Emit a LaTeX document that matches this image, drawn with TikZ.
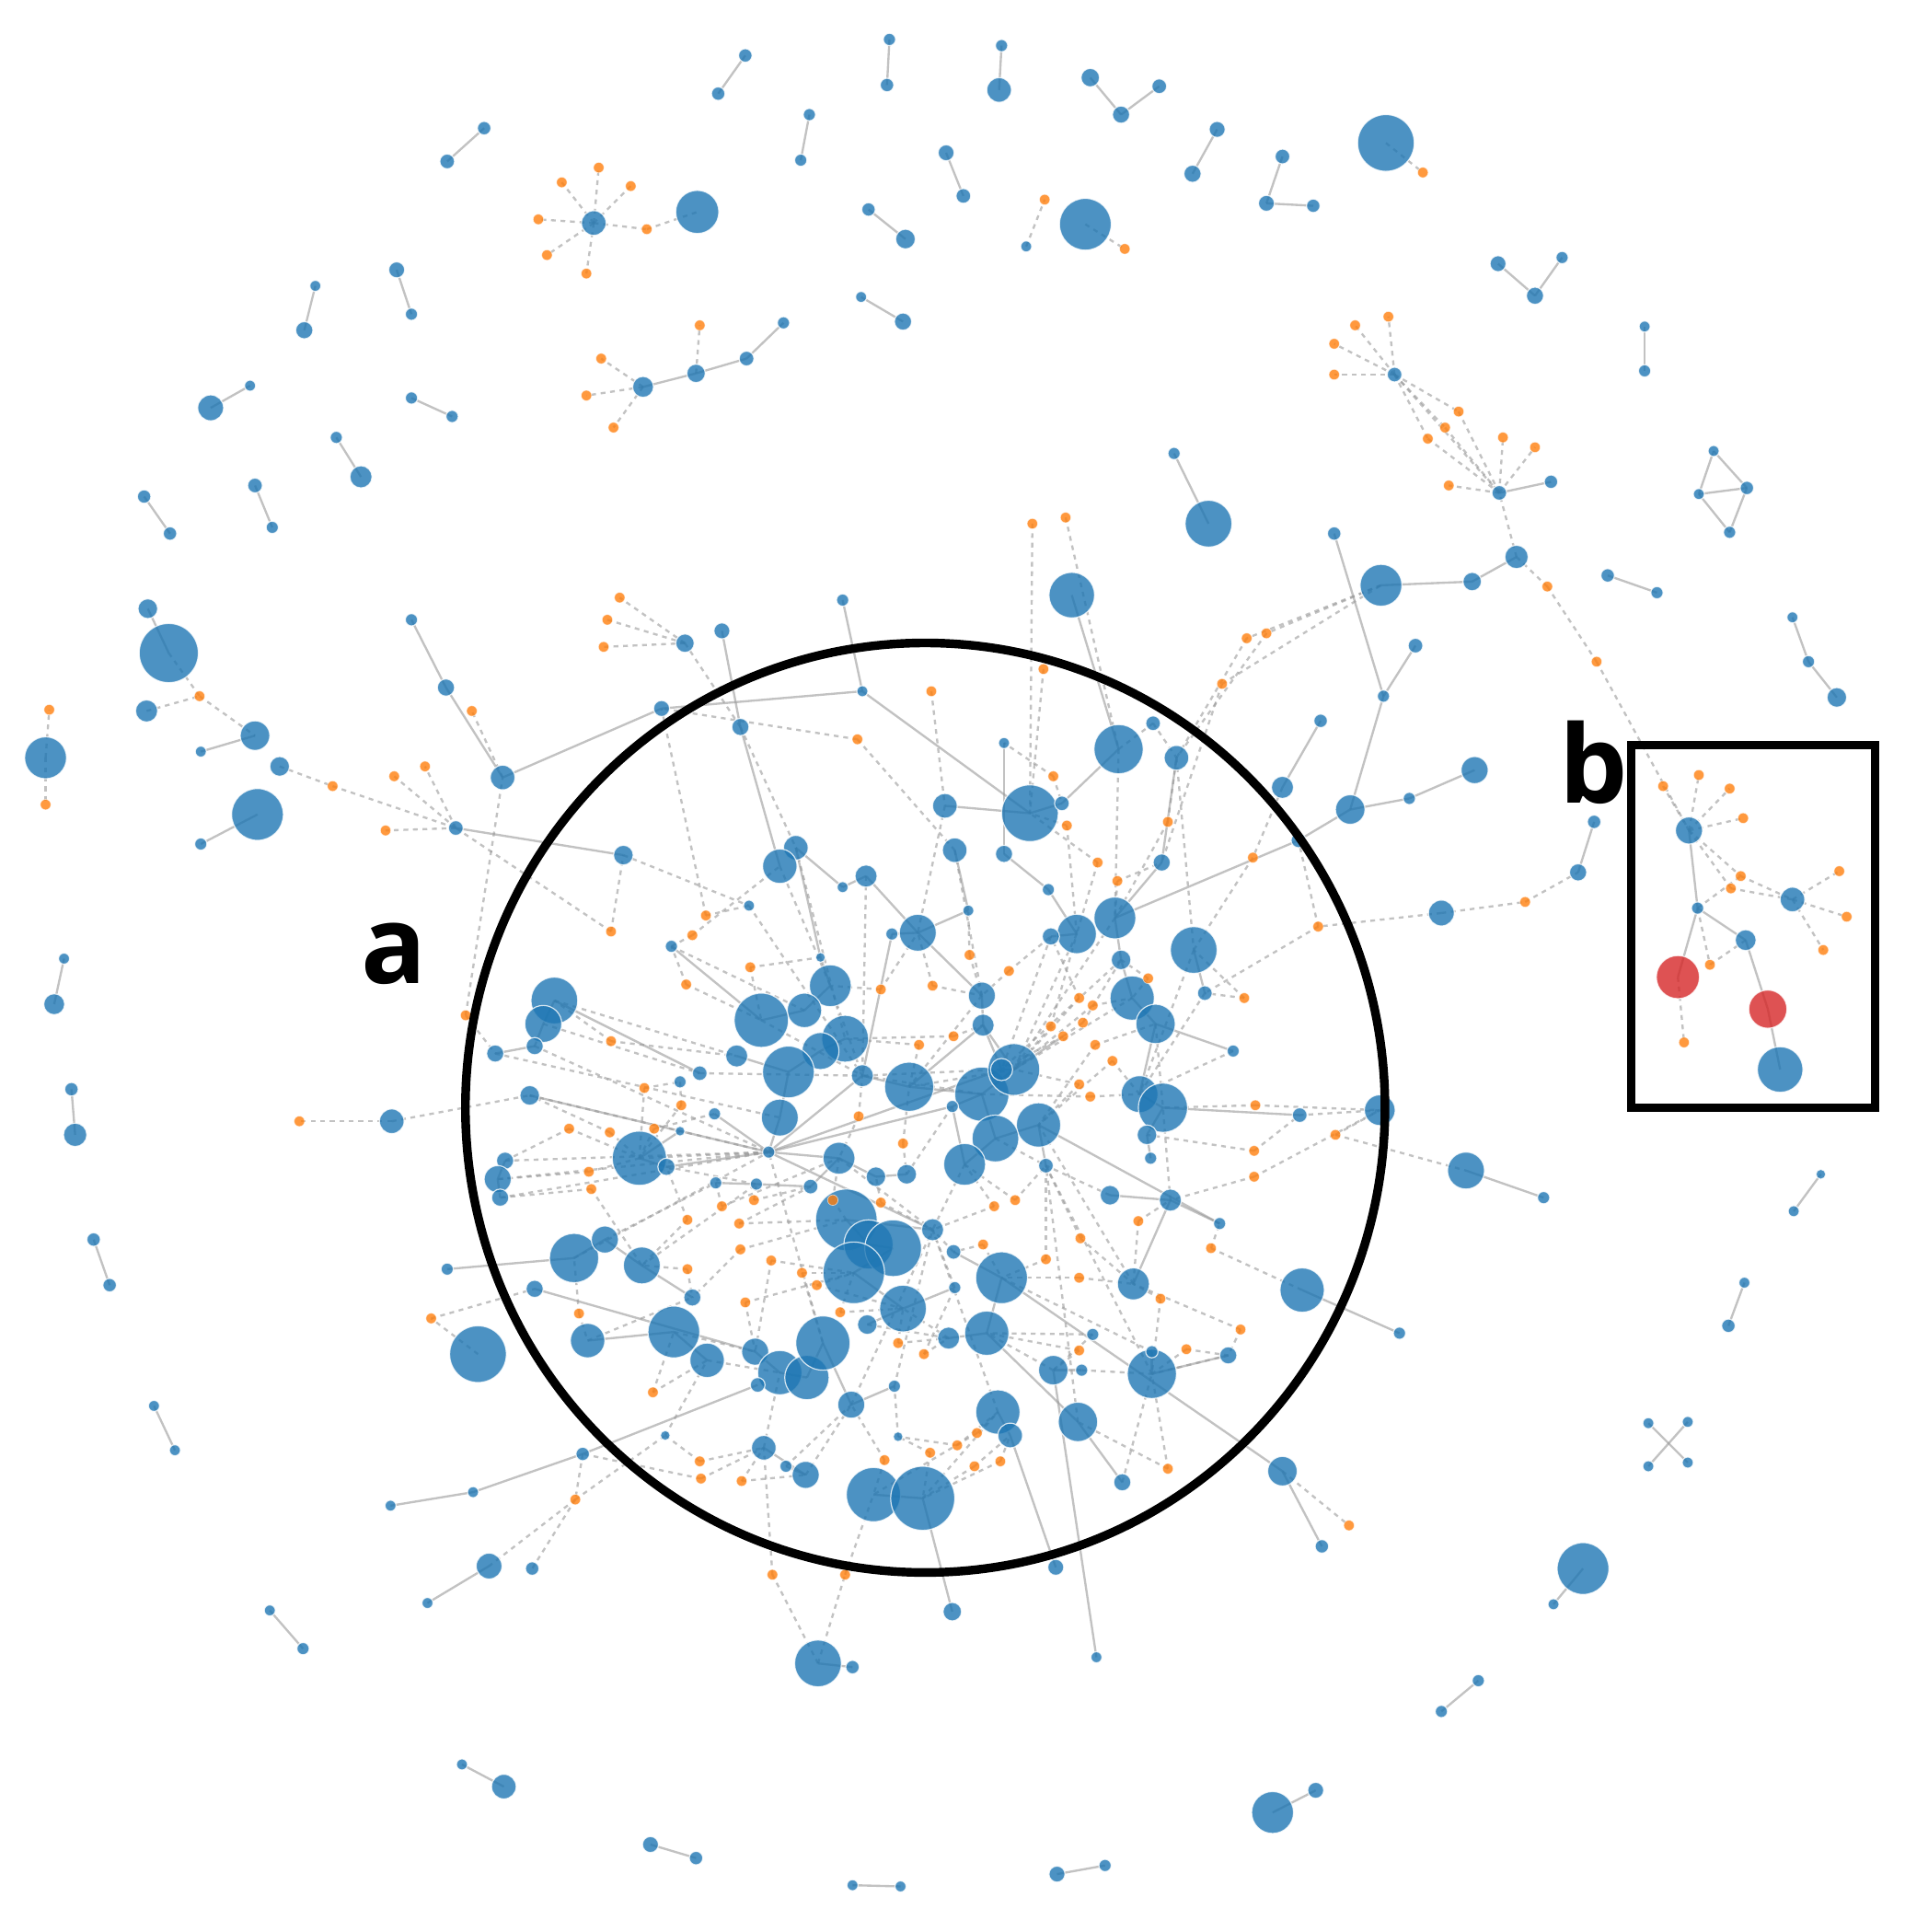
\documentclass[tikz,border=0pt]{standalone}
\usepackage{fontspec}
\newfontfamily\labfont{Open Sans}
\pgfdeclarelayer{bg}
\pgfsetlayers{bg,main}
\definecolor{nb}{HTML}{1F77B4}
\definecolor{no}{HTML}{FF7F0E}
\definecolor{nr}{HTML}{D62728}
\definecolor{eg}{HTML}{999999}
\begin{document}
\begin{tikzpicture}[x=0.01cm,y=-0.01cm,
  bn/.style={circle,fill=nb,fill opacity=0.8,draw=white,draw opacity=0.8,line width=0.25pt,inner sep=0pt,outer sep=0pt},
  rn/.style={bn,fill=nr},
  onode/.style={circle,fill=no,fill opacity=0.8,draw=white,draw opacity=0.6,line width=0.15pt,inner sep=0pt,outer sep=0pt,minimum size=0.85mm},
  se/.style={draw=eg,draw opacity=0.6,line width=0.5pt},
  de/.style={se,dash pattern=on 1.1pt off 1.1pt},
  lab/.style={font={\labfont\bfseries\fontsize{25}{25}\selectfont},inner sep=0pt,text=black}]
\useasboundingbox (0,0) rectangle (1546,1568);
% blue nodes (periphery)
\foreach \n/\x/\y/\d in {p1/605/45/11, p2/583/76/11, p3/722/32/10, p4/720/69/11, p5/813/37/10, p6/811/73/20, p7/885/63/15, p8/910/93/14, p9/941/70/12, p10/1125/116/46, p11/657/93/10, p12/650/130/10, p13/393/104/11, p14/363/131/12, p15/988/105/13, p16/968/141/14, p17/1041/127/12, p18/1028/165/13, p19/1066/167/11, p20/768/124/13, p21/782/159/12, p22/482/181/20, p23/566/172/35, p24/881/182/42, p25/833/200/9, p26/705/170/11, p27/735/194/16, p28/1216/214/13, p29/1246/240/14, p30/1268/209/10, p31/256/232/9, p32/247/268/14, p33/322/219/13, p34/334/255/10, p35/699/241/9, p36/733/261/14, p37/522/314/17, p38/565/303/15, p39/606/291/12, p40/636/262/10, p41/203/313/9, p42/171/331/21, p43/334/323/10, p44/367/338/10, p45/273/355/10, p46/293/387/18, p47/207/394/12, p48/221/428/10, p49/117/403/11, p50/138/433/11, p51/1335/265/9, p52/1335/301/10, p53/1132/304/12, p54/1217/400/12, p55/1259/391/11, p56/1231/452/19, p57/1391/366/9, p58/1379/401/9, p59/1418/396/11, p60/1404/432/10, p61/1455/501/9, p62/1468/537/10, p63/1491/566/16, p64/1478/953/8, p65/1456/983/9, p66/1416/1041/9, p67/1403/1076/11, p68/1338/1155/9, p69/1370/1154/9, p70/1338/1190/9, p71/1370/1187/9, p72/1285/1273/42, p73/1261/1302/9, p74/1200/1364/10, p75/1170/1389/10, p76/1033/1471/34, p77/1068/1453/13, p78/858/1521/13, p79/897/1514/10, p80/692/1530/9, p81/731/1531/9, p82/528/1497/13, p83/565/1508/11, p84/375/1432/9, p85/409/1450/20, p86/219/1307/9, p87/246/1338/10, p88/125/1141/9, p89/142/1177/9, p90/76/1006/11, p91/89/1043/11, p92/58/884/11, p93/61/921/19, p94/52/778/9, p95/44/815/17, p96/37/615/34, p97/120/494/16, p98/137/530/48, p99/119/577/18, p100/207/597/24, p101/163/610/9, p102/227/622/16, p103/209/661/42, p104/163/685/10, p105/370/672/12, p106/334/503/10, p107/362/558/14, p108/408/631/20, p109/537/575/13, p110/700/561/9, p111/318/910/20, p112/363/1030/10, p113/388/1099/46, p114/317/1222/9, p115/384/1211/9, p116/473/1180/11, p117/397/1271/21, p118/432/1273/11, p119/347/1301/9, p120/556/522/15, p121/586/512/13, p122/870/483/37, p123/981/425/38, p124/953/368/10, p125/1121/475/34, p126/1195/472/15, p127/1083/433/11, p128/1305/467/11, p129/1345/481/10, p130/1149/524/12, p131/1123/565/10, p132/1072/585/11, p133/1041/639/18, p134/1096/657/24, p135/1144/648/10, p136/1197/625/22, p137/1170/741/21, p138/1281/708/14, p139/1294/667/11, p140/1190/950/30, p141/1253/972/10, p142/1120/901/25, p143/1055/905/12, p144/1057/1047/36, p145/1136/1082/10, p146/1041/1194/24, p147/1073/1255/11, p148/890/1345/9, p149/857/1272/13, p150/773/1308/15, p151/664/1350/38, p152/692/1353/11, p153/684/487/10, p155/1371/674/22, p156/1378/737/10, p157/1455/730/20, p158/1417/763/17, p159/1445/868/37}
  \node[bn,minimum size=\d*0.1mm] (\n) at (\x,\y) {};
% blue nodes (central cluster)
\foreach \n/\x/\y/\d in {c1/601/590/14, c2/767/654/20, c3/836/660/46, c4/862/652/12, c5/908/608/40, c6/955/615/20, c7/775/690/20, c8/815/693/14, c9/851/722/10, c10/646/688/20, c11/633/703/28, c12/703/711/18, c13/684/720/9, c14/745/757/30, c15/724/758/10, c16/666/777/8, c17/608/735/9, c18/545/768/10, c19/506/694/16, c20/786/739/9, c21/874/758/32, c22/853/760/14, c23/905/745/34, c24/943/700/14, c25/969/771/38, c26/910/779/16, c27/978/806/12, c28/919/810/36, c29/938/831/32, c30/797/808/22, c31/798/832/18, c32/674/800/34, c33/653/820/28, c34/618/828/44, c35/686/843/38, c36/666/853/30, c37/598/857/18, c38/640/870/42, c39/700/873/18, c40/738/882/40, c41/633/907/30, c42/568/871/12, c43/552/878/10, c44/450/812/38, c45/441/831/30, c46/434/849/14, c47/402/855/14, c48/430/889/16, c49/580/904/10, c50/552/918/8, c51/519/940/44, c52/541/947/14, c53/410/942/14, c54/404/957/22, c55/406/972/14, c56/624/935/10, c57/681/940/26, c58/711/955/16, c59/736/953/16, c60/658/963/12, c61/614/961/10, c62/581/960/10, c63/797/888/44, c64/823/868/42, c65/813/868/18, c66/843/913/36, c67/808/924/38, c68/783/945/34, c69/849/946/12, c70/773/898/10, c71/925/888/30, c72/944/899/40, c73/931/921/16, c74/934/940/10, c75/1001/853/10, c76/901/970/16, c77/950/974/18, c78/990/993/10, c79/687/990/50, c80/705/1010/40, c81/725/1013/46, c82/693/1033/50, c83/757/998/18, c84/733/1062/38, c85/774/1016/12, c86/813/1037/42, c87/775/1045/10, c88/704/1075/16, c89/466/1021/40, c90/491/1006/22, c91/521/1027/30, c92/434/1046/14, c93/562/1053/14, c94/547/1081/42, c95/574/1104/28, c96/477/1088/28, c97/613/1097/22, c98/633/1114/36, c99/655/1118/36, c100/668/1090/44, c101/770/1086/18, c102/801/1082/36, c103/920/1042/26, c104/935/1115/40, c105/935/1097/10, c106/997/1100/14, c107/878/1112/10, c108/855/1112/24, c109/691/1140/22, c110/726/1125/10, c111/810/1146/36, c112/820/1165/20, c113/875/1154/32, c114/620/1175/20, c115/654/1197/22, c116/638/1190/10, c117/729/1166/8, c118/709/1213/44, c119/749/1216/52, c120/911/1203/14, c121/540/1165/8, c122/815/603/9, c124/936/587/12, c125/1054/682/12, c126/615/1124/12, c127/887/1083/10}
  \node[bn,minimum size=\d*0.1mm] (\n) at (\x,\y) {};
% red nodes
\foreach \n/\x/\y/\d in {r1/1362/793/35, r2/1435/819/31}
  \node[rn,minimum size=\d*0.1mm] (\n) at (\x,\y) {};
% orange nodes
\foreach \n/\x/\y in {o1/456/148, o2/486/136, o3/512/151, o4/437/178, o5/444/207, o6/476/222, o7/525/186, o8/1155/140, o9/913/202, o10/848/162, o11/568/264, o12/488/291, o13/476/321, o14/498/347, o15/1127/257, o16/1100/264, o17/1083/279, o18/1083/304, o19/1184/334, o20/1173/347, o21/1159/356, o22/1220/355, o23/1246/363, o24/1176/394, o25/1256/476, o26/1296/537, o27/40/576, o28/37/653, o29/162/565, o30/270/638, o31/320/630, o32/345/622, o33/313/674, o34/383/577, o35/243/910, o36/350/1070, o37/467/1217, o38/503/485, o39/493/503, o40/490/525, o41/838/425, o42/865/420, o43/1238/732, o44/1095/1238, o45/627/1278, o46/686/1278, o47/1350/638, o48/1379/629, o49/1404/640, o50/1415/664, o51/1413/711, o52/1405/721, o53/1493/707, o54/1499/744, o55/1480/771, o56/1388/783, o57/1367/846}
  \node[onode] (\n) at (\x,\y) {};
\foreach \n/\x/\y in {q1/756/561, q2/696/600, q3/847/543, q4/1012/518, q5/1028/514, q6/992/555, q7/855/630, q8/866/670, q9/948/667, q10/1017/696, q11/891/700, q12/907/715, q13/573/743, q14/562/759, q15/496/756, q16/609/785, q17/557/799, q18/715/803, q19/757/800, q20/787/775, q21/819/788, q22/1070/752, q23/932/794, q24/1010/810, q25/876/810, q26/887/816, q27/774/841, q28/853/833, q29/879/830, q30/863/841, q31/889/848, q32/903/861, q33/876/880, q34/885/890, q35/496/845, q36/523/883, q37/378/824, q38/746/848, q39/462/916, q40/495/919, q41/531/916, q42/478/951, q43/480/965, q44/586/979, q45/612/974, q46/558/990, q47/600/993, q48/601/1014, q49/626/1023, q50/651/1033, q51/663/1043, q52/558/1030, q53/605/1057, q54/470/1066, q55/682/1065, q56/729/1090, q57/750/1099, q58/530/1130, q59/676/974, q60/715/976, q61/733/928, q62/697/906, q63/568/1186, q64/569/1200, q65/602/1202, q66/718/1185, q67/755/1179, q68/1019/897, q69/1084/921, q70/1018/934, q71/1018/955, q72/807/979, q73/824/974, q74/798/1010, q75/849/1022, q76/877/1005, q77/876/1037, q78/924/991, q79/983/1013, q80/942/1054, q81/1007/1079, q82/876/1096, q83/963/1095, q84/793/1163, q85/777/1173, q86/812/1186, q87/791/1190, q88/948/1192, q89/553/897}
  \node[onode] (\n) at (\x,\y) {};
% connectors
\begin{pgfonlayer}{bg}
\foreach \a/\b in {p1/p2, p3/p4, p5/p6, p7/p8, p8/p9, p11/p12, p13/p14, p15/p16, p17/p18, p18/p19, p20/p21, p26/p27, p28/p29, p29/p30, p31/p32, p33/p34, p35/p36, p37/p38, p38/p39, p39/p40, p41/p42, p43/p44, p45/p46, p47/p48, p49/p50, p51/p52, p54/p55, p57/p58, p57/p59, p58/p59, p58/p60, p59/p60, p61/p62, p62/p63, p64/p65, p66/p67, p68/p71, p69/p70, p72/p73, p74/p75, p76/p77, p78/p79, p80/p81, p82/p83, p84/p85, p86/p87, p88/p89, p90/p91, p92/p93, p94/p95, p97/p98, p100/p101, p103/p104, p106/p107, p107/p108, p108/p109, p109/p110, p110/c3, p153/p110, p121/c1, c1/c11, p105/c19, p114/p115, p115/p116, p116/c126, p112/c89, p117/p119, p122/c5, p123/p124, p125/p126, p126/p56, p127/p131, p130/p131, p131/p134, p132/p133, p134/p135, p135/p136, p134/c125, c125/c23, p128/p129, p138/p139, p140/p141, p143/c72, p144/p145, p146/p147, p146/c86, c112/p149, p148/c108, p150/c119, p151/p152, p155/p156, p156/r1, p156/p158, p158/r2, r2/p159,
 c3/c4, c4/c5, c3/c2, c122/c8, c10/c16, c16/c32, c18/c34, c44/c42, c14/c15, c14/c20, c15/c39, c12/c14, c13/c12, c10/c13, c7/c20, c8/c9, c9/c21, c21/c22, c23/c24, c23/c26, c25/c27, c28/c29, c28/c26, c30/c31, c31/c65, c32/c33, c33/c34, c35/c36, c36/c38, c38/c37, c38/c41, c39/c40, c40/c63, c63/c64, c64/c65, c63/c67, c66/c67, c67/c68, c68/c70, c70/c63, c66/c69, c71/c72, c72/c73, c73/c74, c71/c29, c44/c45, c45/c46, c46/c47, c51/c52, c51/c50, c53/c54, c54/c55, c41/c56, c56/c57, c57/c58, c58/c59, c57/c60, c60/c61, c61/c62, c79/c80, c80/c81, c81/c82, c79/c83, c82/c84, c84/c88, c84/c87, c86/c85, c86/c102, c101/c102, c89/c90, c90/c91, c91/c93, c94/c95, c94/c96, c97/c98, c98/c99, c99/c100, c100/c109, c109/c110, c111/c112, c108/c107, c104/c105, c104/c106, c103/c77, c76/c77, c77/c78, c114/c115, c115/c116, c118/c119, c113/c120, c66/c78, c102/c113, c92/c97, c75/c29, c24/c6, c56/c49, c56/c39, c56/c65, c56/c70, c56/c83, c56/c52, c56/c48, c31/c40, c31/c64, c30/c14}
  \draw[se] (\a.center) -- (\b.center);
\foreach \a/\b in {p22/o1, p22/o2, p22/o3, p22/o4, p22/o5, p22/o6, p22/o7, o7/p23, p10/o8, p24/o9, p25/o10, p38/o11, p37/o12, p37/o13, p37/o14, p53/o15, p53/o16, p53/o17, p53/o18, p53/o19, p53/o20, p53/o21, o19/p54, o20/p54, o21/p54, p53/p54, p54/o22, p54/o23, p54/o24, p56/p54, p56/o25, o25/o26, o26/p155, p96/o27, p96/o28, p98/o29, p99/o29, o29/p100, p102/o30, o30/p105, p105/o31, p105/o32, p105/o33, p108/o34, p111/o35, p111/c48, p113/o36, o36/c92, p116/o37, o37/p117, o37/p118, o37/c121, p120/o38, p120/o39, p120/o40, p120/c1, o41/c3, o42/c5, p137/o43, o43/p138, p137/q22, p146/o44, p151/o45, p151/o46, o45/c114, o46/c118, p142/p143, p125/q4, p125/q5, p133/q10, q69/p140, q79/p144, q68/p142, q69/p142, q70/p143, q71/p142,
 p155/o47, p155/o48, p155/o49, p155/o50, p155/o51, p155/o52, o51/p157, o52/p157, p157/o53, p157/o54, p157/o55, p156/o51, p158/o56, p156/o56, r1/o57,
 q1/c2, q2/c7, q2/p109, q3/c3, q4/c6, q5/c6, q6/c24, q6/p125, q7/c4, q7/c122, q8/c3, q8/c21, q9/c6, q9/c23, q10/c25, q11/c3, q11/c21, q12/c23, q12/c24, q13/c17, q13/p109, q14/c18, q14/c11, q15/c19, q15/p105, q16/c16, q16/c34, q17/c18, q17/c34, q18/c14, q18/c32, q19/c14, q19/c30, q20/c20, q20/c30, q21/c30, q21/c22, q22/c125, q22/c27, q23/c26, q23/c28, q24/c27, q24/c25, q25/c22, q25/c64, q26/c28, q26/c64, q27/c31, q27/c35, q28/c64, q28/c21, q29/c26, q29/c64, q30/c65, q30/c64, q31/c29, q31/c66, q32/c71, q32/c66, q33/c64, q33/c66, q34/c63, q34/c71, q35/c44, q35/c37, q36/c43, q36/c51, q37/c47, q37/p108, q38/c40, q38/c35, q39/c53, q39/c51, q40/c51, q40/c48, q41/c51, q41/c49, q42/c54, q42/c51, q43/c55, q43/c91, q44/c62, q44/c57, q45/c61, q45/c60, q46/c52, q46/c91, q47/c60, q47/c79, q48/c93, q48/c79, q49/c82, q49/c97, q50/c82, q50/c100, q51/c82, q51/c84, q52/c93, q52/c91, q53/c97, q53/c82, q54/c89, q54/c96, q55/c82, q55/c84, q56/c84, q56/c101, q57/c101, q57/c87, q58/c94, q58/c95, q59/c57, q59/c79, q60/c58, q60/c83, q61/c40, q61/c59, q62/c39, q62/c57, q63/c114, q63/c121, q64/c114, q64/p116, q65/c115, q65/c114, q66/c109, q66/c118, q67/c119, q67/c117, q70/c73, q71/c77, q72/c68, q72/c83, q73/c68, q73/c69, q74/c85, q74/c86, q75/c86, q75/c69, q76/c69, q76/c103, q77/c86, q77/c103, q78/c77, q78/c103, q79/c78, q80/c103, q80/c104, q81/c106, q81/c103, q82/c108, q82/c102, q83/c104, q83/c106, q84/c111, q84/c118, q85/c111, q85/c117, q86/c112, q86/c119, q87/c112, q87/c119, q88/c113, q88/c104, q89/c43, q89/c51, q68/c72,
 c19/c17, c17/c39, c54/c56, c53/c56, c55/c56, c48/c56, c46/c56, c47/c41, c44/c37, c45/c42, c51/c56, c52/c61, c89/c56, c90/c62, c91/c61, c94/c97, c95/c98, c96/c93, c100/c56, c109/c83, c110/c83, c111/c83, c113/c69, c104/c69, c103/c66, c77/c72, c76/c69, c75/c71, c27/c71, c25/c71, c6/c25, c5/c23, c2/c14, c7/c30, c12/c39, c11/c32, c10/c35, c1/c10, c18/c33, c32/c39, c34/c39, c42/c39, c57/c83, c59/c70, c68/c83, c67/c69, c63/c39, c64/c40, c65/c39, c30/c40, c22/c65, c21/c64, c23/c64, c28/c64, c29/c72, c26/c65, c124/c5, c124/c6, c120/c104, c119/c111, c115/c109, c114/c98, c121/c95, c116/c109, c117/c110, c107/c104, c108/c102, c105/c86, c106/c104, c127/c102, c127/c108, c88/c101, c87/c83, c85/c83, c101/c84}
  \draw[de] (\a.center) -- (\b.center);
\end{pgfonlayer}
% highlight shapes and labels
\draw[line width=2pt] (751,899) ellipse [x radius=3.73cm, y radius=3.77cm];
\draw[line width=1.9pt] (1324,605) rectangle (1522,899);
\node[lab] (la) at (320,774) {a};
\node[lab] (lb) at (1294,619) {b};
\end{tikzpicture}
\end{document}
